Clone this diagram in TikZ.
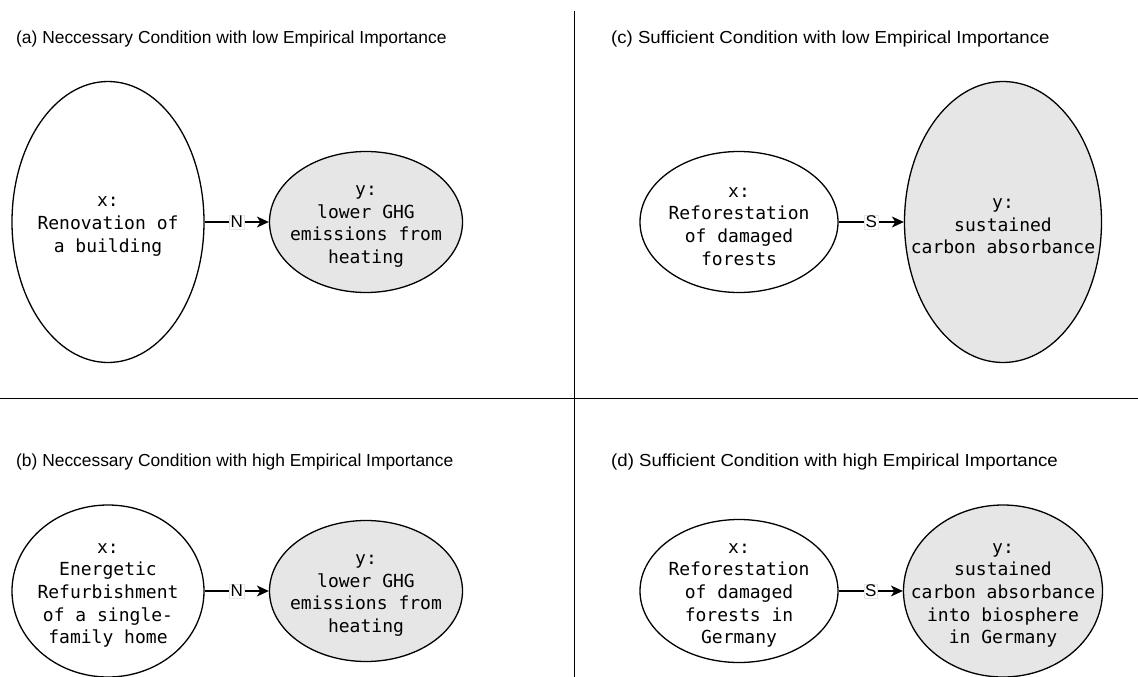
\documentclass[tikz,border=0pt]{standalone}
\usepackage{fontspec}
\usepackage{graphicx}
\setmainfont{Liberation Sans}
\setmonofont{DejaVu Sans Mono}
\usetikzlibrary{arrows.meta,shapes.geometric}
\definecolor{ygray}{RGB}{230,230,230}
\newcommand{\widettl}[1]{\scalebox{1.07}[1]{#1}}

\begin{document}
\begin{tikzpicture}[
  x=1pt, y=-1pt,
  ell/.style={ellipse, draw=black, line width=1.3pt, fill=white, inner sep=0pt},
  yell/.style={ell, fill=ygray},
  txt/.style={font=\ttfamily\fontsize{18}{22.6}\selectfont, align=center, inner sep=0pt, yshift=-4.5pt},
  ttl/.style={font=\fontsize{17.4}{20}\selectfont, anchor=base west, inner sep=0pt},
  arr/.style={-{Stealth[length=12pt, width=11pt, inset=3.5pt]}, line width=1.3pt},
  lbl/.style={font=\fontsize{17}{20}\selectfont, fill=white, draw=black!10, line width=0.5pt,
              inner sep=1pt},
  sep/.style={line width=1.3pt}
]
\useasboundingbox (0,0) rectangle (1138,677);

% ---------------- panel frame ----------------
\draw[sep] (574.5,11) -- (574.5,677);
\draw[sep] (0,398.5) -- (1138,398.5);

% ---------------- (a) ----------------
\node[ttl] (ta) at (16,44) {(a) Neccessary Condition with low Empirical Importance};
\node[ell, minimum width=192, minimum height=281,
      label={[txt]center:{x:\\Renovation of\\a building}}] (xa) at (108,222) {};
\node[yell, minimum width=193, minimum height=141,
      label={[txt]center:{y:\\lower GHG\\emissions from\\heating}}] (ya) at (366,222) {};
\draw[arr] (xa) -- node[lbl] {N} (ya);

% ---------------- (b) ----------------
\node[ttl] (tb) at (16,466) {(b) Neccessary Condition with high Empirical Importance};
\node[ell, minimum width=192, minimum height=172,
      label={[txt]center:{x:\\Energetic\\Refurbishment\\of a single-\\family home}}] (xb) at (108,591) {};
\node[yell, minimum width=193, minimum height=141,
      label={[txt]center:{y:\\lower GHG\\emissions from\\heating}}] (yb) at (366,591) {};
\draw[arr] (xb) -- node[lbl] {N} (yb);

% ---------------- (c) ----------------
\node[ttl] (tc) at (611,44) {\widettl{(c) Sufficient Condition with low Empirical Importance}};
\node[ell, minimum width=198, minimum height=141,
      label={[txt]center:{x:\\Reforestation\\of damaged\\forests}}] (xc) at (739,222) {};
\node[yell, minimum width=197, minimum height=281,
      label={[txt]center:{y:\\sustained\\carbon absorbance}}] (yc) at (1003,222) {};
\draw[arr] (xc) -- node[lbl] {S} (yc);

% ---------------- (d) ----------------
\node[ttl] (td) at (611,466) {\widettl{(d) Sufficient Condition with high Empirical Importance}};
\node[ell, minimum width=198, minimum height=143,
      label={[txt]center:{x:\\Reforestation\\of damaged\\forests in\\Germany}}] (xd) at (739,591) {};
\node[yell, minimum width=199, minimum height=172,
      label={[txt]center:{y:\\sustained\\carbon absorbance\\into biosphere\\in Germany}}] (yd) at (1003,591) {};
\draw[arr] (xd) -- node[lbl] {S} (yd);

\end{tikzpicture}
\end{document}
